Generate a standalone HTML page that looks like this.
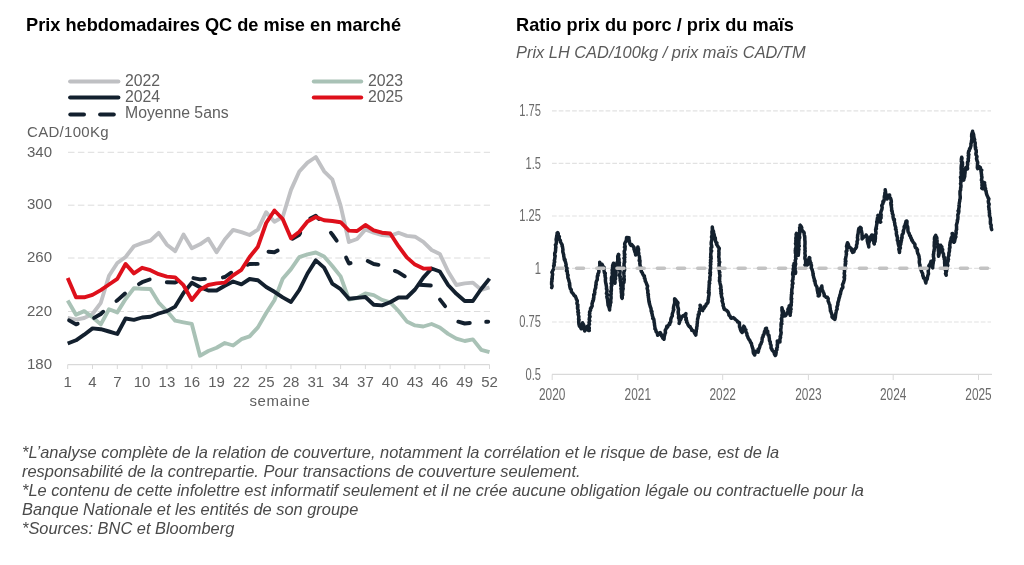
<!DOCTYPE html>
<html><head><meta charset="utf-8"><style>
html,body{margin:0;padding:0;background:#fff;}
body{width:1024px;height:565px;position:relative;overflow:hidden;font-family:"Liberation Sans", sans-serif;}
.t{position:absolute;white-space:nowrap;will-change:transform;}
.title{font-weight:bold;font-size:18.2px;color:#000;}
.foot{font-style:italic;font-size:16.4px;color:#4a4a4a;line-height:19.1px;left:22px;top:443.1px;}
svg{position:absolute;left:0;top:0;will-change:transform;}
</style></head><body>
<div class="t title" style="left:25.5px;top:14.8px;">Prix hebdomadaires QC de mise en marché</div>
<div class="t title" style="left:515.5px;top:15.3px;">Ratio prix du porc / prix du maïs</div>
<div class="t" style="left:515.5px;top:43px;font-style:italic;font-size:16.4px;color:#5a5a5a;">Prix LH CAD/100kg / prix maïs CAD/TM</div>
<svg width="1024" height="565" viewBox="0 0 1024 565">

<line x1="68" y1="152.3" x2="490" y2="152.3" stroke="#dcdcdc" stroke-width="1" stroke-dasharray="6.5 3.4"/><line x1="68" y1="205.2" x2="490" y2="205.2" stroke="#dcdcdc" stroke-width="1" stroke-dasharray="6.5 3.4"/><line x1="68" y1="258.0" x2="490" y2="258.0" stroke="#dcdcdc" stroke-width="1" stroke-dasharray="6.5 3.4"/><line x1="68" y1="311.5" x2="490" y2="311.5" stroke="#dcdcdc" stroke-width="1" stroke-dasharray="6.5 3.4"/><line x1="67.7" y1="364.6" x2="489.6" y2="364.6" stroke="#d9d9d9" stroke-width="1.2"/><line x1="67.7" y1="364.6" x2="67.7" y2="369" stroke="#d9d9d9" stroke-width="1"/><line x1="92.5" y1="364.6" x2="92.5" y2="369" stroke="#d9d9d9" stroke-width="1"/><line x1="117.3" y1="364.6" x2="117.3" y2="369" stroke="#d9d9d9" stroke-width="1"/><line x1="142.1" y1="364.6" x2="142.1" y2="369" stroke="#d9d9d9" stroke-width="1"/><line x1="166.9" y1="364.6" x2="166.9" y2="369" stroke="#d9d9d9" stroke-width="1"/><line x1="191.8" y1="364.6" x2="191.8" y2="369" stroke="#d9d9d9" stroke-width="1"/><line x1="216.6" y1="364.6" x2="216.6" y2="369" stroke="#d9d9d9" stroke-width="1"/><line x1="241.4" y1="364.6" x2="241.4" y2="369" stroke="#d9d9d9" stroke-width="1"/><line x1="266.2" y1="364.6" x2="266.2" y2="369" stroke="#d9d9d9" stroke-width="1"/><line x1="291.0" y1="364.6" x2="291.0" y2="369" stroke="#d9d9d9" stroke-width="1"/><line x1="315.8" y1="364.6" x2="315.8" y2="369" stroke="#d9d9d9" stroke-width="1"/><line x1="340.6" y1="364.6" x2="340.6" y2="369" stroke="#d9d9d9" stroke-width="1"/><line x1="365.4" y1="364.6" x2="365.4" y2="369" stroke="#d9d9d9" stroke-width="1"/><line x1="390.2" y1="364.6" x2="390.2" y2="369" stroke="#d9d9d9" stroke-width="1"/><line x1="415.0" y1="364.6" x2="415.0" y2="369" stroke="#d9d9d9" stroke-width="1"/><line x1="439.8" y1="364.6" x2="439.8" y2="369" stroke="#d9d9d9" stroke-width="1"/><line x1="464.7" y1="364.6" x2="464.7" y2="369" stroke="#d9d9d9" stroke-width="1"/><line x1="489.5" y1="364.6" x2="489.5" y2="369" stroke="#d9d9d9" stroke-width="1"/>
<g font-family='"Liberation Sans", sans-serif' font-size="15" fill="#606060"><text x="67.7" y="386.9" text-anchor="middle">1</text><text x="92.5" y="386.9" text-anchor="middle">4</text><text x="117.3" y="386.9" text-anchor="middle">7</text><text x="142.1" y="386.9" text-anchor="middle">10</text><text x="166.9" y="386.9" text-anchor="middle">13</text><text x="191.8" y="386.9" text-anchor="middle">16</text><text x="216.6" y="386.9" text-anchor="middle">19</text><text x="241.4" y="386.9" text-anchor="middle">22</text><text x="266.2" y="386.9" text-anchor="middle">25</text><text x="291.0" y="386.9" text-anchor="middle">28</text><text x="315.8" y="386.9" text-anchor="middle">31</text><text x="340.6" y="386.9" text-anchor="middle">34</text><text x="365.4" y="386.9" text-anchor="middle">37</text><text x="390.2" y="386.9" text-anchor="middle">40</text><text x="415.0" y="386.9" text-anchor="middle">43</text><text x="439.8" y="386.9" text-anchor="middle">46</text><text x="464.7" y="386.9" text-anchor="middle">49</text><text x="489.5" y="386.9" text-anchor="middle">52</text><text x="27" y="156.5">340</text><text x="27" y="209.4">300</text><text x="27" y="262.2">260</text><text x="27" y="315.7">220</text><text x="27" y="368.8">180</text>
<text x="27" y="136.5" letter-spacing="0.3">CAD/100Kg</text>
<text x="249.5" y="406" letter-spacing="0.6">semaine</text>
</g>
<g font-family='"Liberation Sans", sans-serif' font-size="15.8" fill="#606060">
<text x="125" y="86.1">2022</text>
<text x="125" y="102.2">2024</text>
<text x="125" y="118.3">Moyenne 5ans</text>
<text x="368" y="86.1">2023</text>
<text x="368" y="102.2">2025</text>
</g>
<g fill="none" stroke-width="4" stroke-linecap="round" stroke-linejoin="round">
<line x1="70.1" y1="81.6" x2="118.4" y2="81.6" stroke="#bfc0c3"/>
<line x1="70.1" y1="97.6" x2="118.4" y2="97.6" stroke="#13202e"/>
<line x1="70.3" y1="114.4" x2="84" y2="114.4" stroke="#13202e"/>
<line x1="100.1" y1="114.4" x2="113.8" y2="114.4" stroke="#13202e"/>
<line x1="313.8" y1="81.5" x2="361.2" y2="81.5" stroke="#a9c2b6"/>
<line x1="313.8" y1="97.6" x2="361.2" y2="97.6" stroke="#de101b"/>
</g><g fill="none" stroke-width="3.9" stroke-linecap="butt" stroke-linejoin="round">
<polyline points="67.7,318.0 76.0,319.6 84.2,318.0 92.5,314.0 100.8,302.8 109.0,275.7 117.3,263.0 125.6,257.0 133.9,246.3 142.1,243.1 150.4,240.7 158.7,232.8 166.9,244.7 175.2,251.1 183.5,234.5 191.8,248.3 200.0,244.3 208.3,238.7 216.6,252.3 224.8,239.5 233.1,229.9 241.4,232.2 249.6,235.0 257.9,229.7 266.2,212.2 274.4,221.8 282.7,217.0 291.0,189.9 299.3,171.5 307.5,162.6 315.8,157.0 324.1,171.3 332.3,179.3 340.6,205.6 348.9,242.0 357.1,239.0 365.4,229.5 373.7,232.7 382.0,235.1 390.2,235.9 398.5,232.7 406.8,235.9 415.0,236.7 423.3,241.8 431.6,250.0 439.8,253.9 448.1,271.5 456.4,285.0 464.7,283.4 472.9,282.6 481.2,289.8 489.5,287.4" stroke="#c0c1c4"/>
<polyline points="67.7,300.5 76.0,314.8 84.2,311.1 92.5,317.2 100.8,324.4 109.0,309.2 117.3,312.4 125.6,299.0 133.9,288.3 142.1,288.7 150.4,289.0 158.7,302.6 166.9,311.0 175.2,320.7 183.5,322.3 191.8,323.9 200.0,355.7 208.3,351.0 216.6,347.8 224.8,343.0 233.1,345.5 241.4,339.2 249.6,336.4 257.9,327.4 266.2,313.0 274.4,300.2 282.7,278.7 291.0,269.1 299.3,257.2 307.5,254.4 315.8,252.5 324.1,256.5 332.3,266.0 340.6,276.4 348.9,299.5 357.1,298.0 365.4,293.5 373.7,295.1 382.0,299.9 390.2,302.3 398.5,311.0 406.8,321.4 415.0,325.4 423.3,326.5 431.6,324.0 439.8,327.5 448.1,333.9 456.4,338.6 464.7,341.0 472.9,339.4 481.2,349.8 489.5,352.2" stroke="#a9c2b6"/>
<polyline points="69.1,320.4 76.0,324.4 77.7,323.7" stroke="#13202e" stroke-linecap="round"/><polyline points="94.1,317.9 100.8,314.0 103.2,311.7" stroke="#13202e" stroke-linecap="round"/><polyline points="116.4,301.0 117.3,300.4 125.0,293.5" stroke="#13202e" stroke-linecap="round"/><polyline points="138.9,284.1 142.1,282.2 149.7,279.5" stroke="#13202e" stroke-linecap="round"/><polyline points="166.8,282.2 166.9,282.2 175.2,282.5 176.8,281.8" stroke="#13202e" stroke-linecap="round"/><polyline points="193.4,278.1 200.0,279.4 204.9,278.9" stroke="#13202e" stroke-linecap="round"/><polyline points="222.9,277.4 224.8,277.0 231.2,272.7" stroke="#13202e" stroke-linecap="round"/><polyline points="247.7,264.8 249.6,264.0 257.7,263.9" stroke="#13202e" stroke-linecap="round"/><polyline points="268.5,251.7 274.4,252.3 277.7,250.6" stroke="#13202e" stroke-linecap="round"/><polyline points="292.4,238.7 299.3,234.7 300.2,233.0" stroke="#13202e" stroke-linecap="round"/><polyline points="310.3,218.6 315.8,215.8 318.8,219.0" stroke="#13202e" stroke-linecap="round"/><polyline points="330.9,232.8 332.3,234.5 336.7,240.6" stroke="#13202e" stroke-linecap="round"/><polyline points="346.1,257.6 348.9,263.5 350.6,263.1" stroke="#13202e" stroke-linecap="round"/><polyline points="367.7,261.1 373.7,264.0 378.5,264.8" stroke="#13202e" stroke-linecap="round"/><polyline points="394.9,270.9 398.5,272.3 404.8,276.3" stroke="#13202e" stroke-linecap="round"/><polyline points="419.6,284.8 423.3,285.0 430.8,285.5" stroke="#13202e" stroke-linecap="round"/><polyline points="440.0,299.6 445.1,306.1" stroke="#13202e" stroke-linecap="round"/><polyline points="458.3,321.7 464.7,323.5 469.8,323.0" stroke="#13202e" stroke-linecap="round"/><polyline points="486.2,321.8 488.2,321.7" stroke="#13202e" stroke-linecap="round"/>
<polyline points="67.7,343.5 76.0,340.3 84.2,334.7 92.5,328.4 100.8,329.2 109.0,331.5 117.3,334.0 125.6,318.5 133.9,319.9 142.1,317.5 150.4,316.7 158.7,313.5 166.9,311.1 175.2,306.6 183.5,293.0 191.8,282.8 200.0,287.3 208.3,290.5 216.6,290.5 224.8,285.7 233.1,281.5 241.4,284.3 249.6,279.0 257.9,280.3 266.2,287.0 274.4,291.8 282.7,297.4 291.0,302.0 299.3,290.0 307.5,273.5 315.8,260.4 324.1,267.6 332.3,283.6 340.6,289.2 348.9,298.7 357.1,297.9 365.4,297.0 373.7,304.7 382.0,305.4 390.2,302.3 398.5,297.5 406.8,297.5 415.0,289.5 423.3,277.6 431.6,268.5 439.8,271.5 448.1,285.0 456.4,293.8 464.7,301.0 472.9,301.0 481.2,289.0 489.5,278.6" stroke="#13202e"/>
<polyline points="67.7,278.1 76.0,297.3 84.2,297.3 92.5,294.9 100.8,290.1 109.0,284.5 117.3,278.9 125.6,264.0 133.9,273.4 142.1,267.8 150.4,270.2 158.7,274.2 166.9,276.6 175.2,277.4 183.5,285.2 191.8,300.0 200.0,289.7 208.3,285.0 216.6,283.4 224.8,282.6 233.1,275.4 241.4,269.8 249.6,257.0 257.9,246.7 266.2,223.0 274.4,210.5 282.7,219.0 291.0,238.2 299.3,231.8 307.5,221.5 315.8,217.0 324.1,220.3 332.3,221.0 340.6,222.2 348.9,230.6 357.1,231.0 365.4,225.0 373.7,230.3 382.0,232.7 390.2,233.5 398.5,246.2 406.8,257.4 415.0,264.6 423.3,268.6 431.6,268.5" stroke="#de101b"/>
</g>


<line x1="552" y1="110.8" x2="991" y2="110.8" stroke="#e2e2e2" stroke-width="1.2" stroke-dasharray="4.7 2"/><line x1="552" y1="163.4" x2="991" y2="163.4" stroke="#e2e2e2" stroke-width="1.2" stroke-dasharray="4.7 2"/><line x1="552" y1="216.0" x2="991" y2="216.0" stroke="#e2e2e2" stroke-width="1.2" stroke-dasharray="4.7 2"/><line x1="552" y1="322.0" x2="991" y2="322.0" stroke="#e2e2e2" stroke-width="1.2" stroke-dasharray="4.7 2"/><line x1="552" y1="268.4" x2="991" y2="268.4" stroke="#e2e2e2" stroke-width="1.2" stroke-dasharray="4.7 2"/><line x1="552" y1="374.4" x2="992" y2="374.4" stroke="#d9d9d9" stroke-width="1.2"/><line x1="552.2" y1="374.4" x2="552.2" y2="380" stroke="#d9d9d9" stroke-width="1"/><line x1="637.8" y1="374.4" x2="637.8" y2="380" stroke="#d9d9d9" stroke-width="1"/><line x1="722.7" y1="374.4" x2="722.7" y2="380" stroke="#d9d9d9" stroke-width="1"/><line x1="808.4" y1="374.4" x2="808.4" y2="380" stroke="#d9d9d9" stroke-width="1"/><line x1="893.2" y1="374.4" x2="893.2" y2="380" stroke="#d9d9d9" stroke-width="1"/><line x1="978.5" y1="374.4" x2="978.5" y2="380" stroke="#d9d9d9" stroke-width="1"/>
<g font-family='"Liberation Sans", sans-serif' font-size="16.5" fill="#6b6b6b"><text transform="translate(552.2,399.7) scale(0.72,1)" text-anchor="middle">2020</text><text transform="translate(637.8,399.7) scale(0.72,1)" text-anchor="middle">2021</text><text transform="translate(722.7,399.7) scale(0.72,1)" text-anchor="middle">2022</text><text transform="translate(808.4,399.7) scale(0.72,1)" text-anchor="middle">2023</text><text transform="translate(893.2,399.7) scale(0.72,1)" text-anchor="middle">2024</text><text transform="translate(978.5,399.7) scale(0.72,1)" text-anchor="middle">2025</text><text transform="translate(541,116.0) scale(0.675,1)" text-anchor="end">1.75</text><text transform="translate(541,168.6) scale(0.675,1)" text-anchor="end">1.5</text><text transform="translate(541,221.2) scale(0.675,1)" text-anchor="end">1.25</text><text transform="translate(541,273.6) scale(0.675,1)" text-anchor="end">1</text><text transform="translate(541,327.2) scale(0.675,1)" text-anchor="end">0.75</text><text transform="translate(541,379.6) scale(0.675,1)" text-anchor="end">0.5</text></g>
<polyline points="551.7,287.6 552.1,286.2 552.0,285.4 551.6,284.4 551.6,283.0 551.7,281.1 552.0,281.2 551.8,278.8 552.3,278.9 552.2,276.6 552.6,274.7 552.6,273.9 551.9,272.3 552.1,272.3 552.8,270.4 553.9,268.6 553.9,266.8 553.6,265.8 554.3,265.0 554.0,264.1 554.3,262.4 554.7,261.9 554.3,260.4 554.6,259.8 554.9,257.5 555.2,256.0 554.8,255.9 554.7,254.2 554.7,253.3 555.4,251.9 555.6,250.2 555.6,249.5 555.6,248.1 555.9,247.7 555.7,246.0 555.4,244.9 556.1,244.1 556.5,241.6 556.3,241.0 556.1,239.4 556.5,237.5 556.5,237.4 556.8,235.2 557.2,235.0 557.1,233.0 557.7,232.5 558.3,233.8 558.2,234.2 558.6,236.4 559.4,236.4 559.1,237.8 559.5,239.6 560.4,240.5 560.5,242.1 561.5,243.6 562.2,245.0 562.1,246.1 562.4,246.3 562.8,248.8 563.0,250.0 562.8,250.5 562.8,252.1 563.0,252.2 563.3,253.6 563.7,254.6 563.7,256.0 564.1,257.6 564.3,259.7 565.1,259.6 565.1,261.2 565.5,262.0 566.2,264.8 566.1,265.1 565.9,265.6 566.4,267.1 567.0,268.1 566.5,270.8 567.1,270.5 567.3,271.5 567.5,274.5 568.1,275.2 567.8,275.8 567.9,277.8 568.5,279.0 568.5,279.2 569.2,281.8 569.5,282.7 569.7,283.8 569.4,284.7 569.8,285.0 569.8,286.7 570.3,288.7 571.2,289.5 571.4,291.7 571.7,291.9 572.0,292.6 573.0,293.5 574.4,295.7 575.4,296.3 576.1,298.1 576.4,299.2 577.3,300.6 577.3,301.3 576.9,303.1 577.2,304.4 577.9,304.9 577.5,307.1 577.9,307.0 577.5,308.2 578.3,310.6 577.8,311.9 578.6,312.8 578.2,313.9 578.1,314.2 578.9,316.7 578.6,318.5 578.6,319.7 579.1,319.8 578.7,321.2 578.8,323.1 578.9,324.1 579.4,326.2 580.3,326.7 581.2,328.8 581.4,327.7 581.9,325.8 582.3,323.8 582.6,322.9 582.6,322.8 582.9,323.5 583.7,324.9 583.5,326.1 584.0,327.8 583.8,328.6 584.1,329.4 584.8,331.0 585.2,330.3 586.1,328.5 586.4,327.4 586.9,326.5 587.4,327.5 587.9,329.4 588.6,330.5 589.3,330.6 589.0,330.6 589.3,327.9 588.7,327.2 588.8,325.6 588.8,325.1 589.5,324.3 589.0,322.8 589.5,320.5 589.8,320.7 589.2,319.5 589.5,317.4 590.1,316.8 589.4,314.8 589.8,313.4 589.5,312.2 590.4,310.4 590.6,310.0 590.5,308.6 591.4,307.7 591.2,307.3 592.2,306.1 592.0,303.6 592.3,303.3 592.7,300.9 593.1,301.2 593.7,298.8 593.3,298.8 593.9,297.2 593.7,294.8 594.5,294.3 594.2,294.1 594.9,292.6 594.6,291.5 594.8,290.3 595.4,288.2 595.7,288.1 595.7,285.4 596.2,284.4 596.0,283.1 596.2,282.0 596.6,280.9 597.3,279.7 597.3,278.3 597.3,276.8 597.5,275.6 598.1,275.4 597.9,274.1 598.8,272.2 598.9,271.6 598.8,271.0 598.9,269.2 599.4,268.8 599.3,267.3 599.9,265.7 599.8,263.9 599.7,262.2 600.8,264.3 602.1,264.3 603.0,266.5 604.0,267.4 603.7,267.9 604.0,269.5 604.1,270.7 604.4,272.8 605.3,273.3 604.9,275.2 605.2,275.3 605.1,276.6 605.6,278.1 605.4,279.3 605.4,280.1 605.5,281.6 605.6,282.1 605.9,283.7 606.3,285.5 606.5,286.9 606.6,288.5 606.4,288.8 607.0,289.7 606.9,291.8 606.4,293.4 607.3,294.2 607.2,295.8 606.8,296.5 607.2,298.3 607.6,299.5 607.6,300.8 607.9,301.6 607.7,301.6 607.9,303.4 608.1,305.4 608.7,306.3 609.0,307.5 609.1,307.5 609.6,310.0 609.6,308.3 610.0,306.1 610.3,305.1 610.0,303.7 610.8,302.3 610.9,302.5 610.7,300.2 610.8,299.5 611.1,298.2 611.0,296.0 610.6,295.1 611.2,294.0 611.1,292.3 610.7,291.5 611.3,291.1 611.4,289.2 611.3,288.3 611.3,286.5 611.8,285.4 611.9,285.5 611.1,283.4 611.9,283.2 611.6,280.7 611.4,280.7 611.5,278.9 611.5,277.5 612.3,275.6 612.3,275.0 612.5,274.2 612.1,273.3 612.4,270.5 612.1,270.1 612.6,268.5 612.5,267.3 612.8,267.0 612.6,265.6 613.5,263.2 613.7,265.5 613.7,266.0 613.4,267.4 614.0,268.9 613.5,269.9 613.6,270.4 613.5,273.0 613.8,274.4 613.8,274.4 614.1,275.5 614.1,278.1 614.7,279.1 614.5,280.5 614.9,281.1 614.8,281.4 614.9,283.3 615.1,282.4 614.8,280.0 615.6,278.8 615.3,277.9 615.3,277.3 616.1,275.2 615.9,273.9 616.0,272.8 615.8,271.1 616.0,271.2 616.4,268.7 617.0,268.8 616.7,266.1 616.6,264.7 616.9,263.5 617.0,262.5 617.5,262.4 617.8,260.3 617.7,259.2 617.8,257.7 617.7,256.3 618.7,254.8 618.4,254.4 618.8,254.9 618.4,256.2 618.6,257.7 619.2,259.6 619.2,259.4 618.6,261.8 619.4,262.6 619.2,262.9 619.2,265.8 619.6,266.9 619.9,267.0 619.2,268.0 619.7,270.2 620.1,271.5 620.0,272.7 619.9,273.6 619.6,275.2 619.9,276.6 620.3,276.7 620.0,277.8 620.5,279.9 620.1,279.9 620.6,282.1 620.6,282.6 620.9,283.5 620.7,285.5 621.4,287.0 621.4,287.9 620.9,288.7 621.7,290.8 621.2,290.8 621.4,293.2 621.5,293.6 621.8,296.0 621.5,295.6 621.7,297.5 622.1,298.4 622.3,298.1 622.2,295.9 622.7,294.9 622.7,293.6 622.3,293.3 622.5,292.4 622.8,289.8 622.7,289.1 623.2,288.8 622.8,286.6 623.0,286.4 623.1,283.5 623.1,282.9 624.0,282.6 624.0,281.6 624.3,279.2 623.6,279.1 624.2,276.3 624.1,275.7 623.9,274.4 623.8,272.6 623.9,272.0 624.5,270.4 624.6,269.4 624.0,269.3 624.5,267.4 623.8,266.3 624.1,265.9 624.0,263.7 624.7,261.9 624.3,262.1 624.6,259.5 624.0,258.3 624.8,257.5 624.7,257.4 624.4,255.1 624.9,254.5 624.3,253.5 624.4,251.5 624.2,251.2 625.0,249.7 625.1,247.4 624.5,247.1 625.2,246.7 624.7,244.3 624.7,243.5 625.6,241.7 625.9,241.6 626.3,240.5 626.5,238.5 626.6,237.4 629.0,237.8 628.8,240.2 629.3,240.2 629.5,242.2 630.1,244.2 631.0,245.4 631.9,244.7 633.2,246.4 634.1,247.6 633.9,248.8 634.5,250.5 634.9,252.1 635.1,252.0 635.5,253.6 635.6,255.0 636.1,253.4 636.1,252.1 636.4,252.0 637.2,249.7 637.4,249.6 637.9,246.9 638.3,248.9 638.6,249.2 638.3,251.8 638.8,253.2 638.2,253.3 638.5,254.4 639.4,256.4 639.5,257.3 639.6,258.6 639.2,260.5 640.0,260.6 639.9,262.8 639.8,263.7 640.0,264.7 640.3,266.7 640.9,267.3 640.5,268.8 641.3,269.8 641.2,271.2 642.4,273.0 642.5,273.4 643.5,275.5 644.4,275.9 644.4,278.2 645.0,278.7 645.3,281.2 645.7,281.7 646.1,282.7 647.0,285.0 646.9,284.8 647.6,286.1 647.1,288.5 647.6,289.6 647.7,290.9 647.9,290.8 647.7,292.7 648.4,294.5 648.0,295.2 648.4,296.2 648.3,297.0 648.8,299.3 648.6,299.7 649.3,301.8 648.9,301.4 649.7,304.2 649.4,303.7 650.0,305.5 650.4,307.2 650.7,307.6 651.1,309.0 651.2,311.4 652.0,311.4 651.7,313.1 652.3,314.4 652.3,315.4 653.1,317.8 652.8,318.5 653.7,318.8 654.0,320.3 654.1,322.3 654.4,323.2 654.5,324.9 654.8,326.4 655.0,327.2 654.9,328.9 655.6,329.4 656.1,331.7 656.6,332.0 657.3,333.3 657.7,335.3 658.7,334.2 660.2,332.5 661.0,333.8 661.7,336.3 662.1,336.3 662.8,338.1 663.8,338.9 664.0,339.2 664.2,337.6 664.1,336.7 664.6,335.3 665.3,332.6 665.5,332.8 665.2,330.4 666.1,328.8 666.5,327.8 666.8,326.3 667.6,327.0 668.4,325.1 669.7,324.5 669.6,322.9 670.0,323.0 670.8,321.7 670.7,320.2 671.0,318.5 671.7,316.9 672.3,315.9 672.3,315.2 672.2,314.2 673.0,311.8 673.4,310.3 673.8,309.6 673.4,308.7 673.7,306.3 674.2,304.8 674.4,303.9 674.5,304.0 674.7,302.1 674.6,299.7 674.6,298.7 676.0,300.2 676.9,302.1 677.5,302.0 678.0,302.9 677.5,304.8 677.7,306.0 677.9,307.7 678.3,308.3 678.5,310.0 678.1,312.1 678.3,312.0 678.3,314.1 679.1,315.6 678.7,316.0 678.5,317.9 679.1,318.6 679.2,320.1 679.6,321.9 679.1,323.4 679.5,321.5 680.5,319.7 680.8,319.4 681.4,317.7 682.9,315.7 683.3,315.8 684.6,315.2 685.9,313.6 685.6,315.1 685.5,317.3 686.3,318.2 685.8,319.7 686.6,320.2 686.8,321.4 686.5,322.0 687.3,322.9 688.2,325.2 689.3,326.5 690.1,326.5 690.6,327.9 691.6,329.1 691.8,330.4 693.1,330.7 694.0,331.4 694.4,332.8 695.8,335.1 696.0,332.7 696.3,331.4 695.9,331.2 696.5,329.5 696.7,328.7 696.7,327.2 697.1,325.9 697.1,324.4 697.4,322.4 697.3,321.7 697.4,321.0 697.7,318.2 697.9,318.6 698.3,316.0 698.2,314.6 699.1,314.4 699.3,313.4 699.0,311.9 699.5,311.1 700.1,310.0 699.7,308.8 700.6,307.7 700.1,305.2 700.7,306.2 701.9,308.9 702.2,310.3 702.7,310.6 702.9,309.2 704.1,308.3 704.4,307.7 704.7,306.3 705.6,306.1 706.3,304.1 707.5,303.1 708.1,301.9 708.0,300.2 708.4,299.7 708.4,298.3 708.7,296.2 709.0,294.8 709.1,293.7 708.4,292.6 709.2,292.7 708.6,290.6 709.1,290.0 708.9,288.2 709.1,287.6 709.1,286.6 709.2,284.0 709.7,283.3 709.2,282.4 709.3,281.4 709.9,280.2 709.9,278.2 709.8,277.1 710.3,275.3 710.4,274.0 709.8,273.2 710.5,272.4 710.2,271.8 710.1,269.9 710.5,269.2 710.7,267.8 710.4,266.0 710.3,265.7 710.8,264.3 710.4,262.5 711.0,261.5 710.5,260.1 711.2,258.5 710.6,257.3 711.1,257.1 710.7,254.6 710.8,253.7 711.1,252.2 711.0,251.0 711.6,250.8 710.9,250.0 711.0,247.7 711.8,247.2 711.6,245.3 711.2,244.5 711.2,242.5 711.5,241.0 711.5,241.1 711.9,239.3 711.9,238.1 711.5,237.1 711.8,236.1 712.3,234.3 712.0,233.7 711.9,231.5 712.2,231.5 712.3,229.9 712.5,228.6 712.3,227.0 712.3,228.5 712.4,229.4 713.4,231.1 713.5,231.5 713.6,233.1 714.1,234.2 714.5,236.4 714.4,237.1 715.3,237.8 715.4,240.1 715.4,240.5 715.9,242.2 716.9,242.9 716.5,244.2 717.6,245.9 718.3,247.2 719.3,248.4 718.9,250.4 718.8,251.2 719.0,252.6 718.8,254.2 719.0,253.8 718.9,255.6 718.7,256.9 719.1,258.7 719.1,259.1 719.0,261.2 719.7,262.1 719.0,263.8 719.2,264.0 719.0,266.2 719.7,267.2 719.4,268.3 719.2,270.3 719.3,270.9 719.8,272.5 719.5,272.8 719.6,273.7 719.9,275.4 719.9,276.4 719.5,277.7 719.7,278.8 719.4,281.0 719.8,281.3 720.0,283.0 720.3,284.5 720.6,285.2 721.0,287.3 720.4,288.5 721.3,289.6 720.8,291.0 721.3,290.7 720.9,293.6 721.7,293.6 721.3,294.6 721.6,297.0 721.8,297.1 722.5,299.5 722.0,300.9 722.5,301.9 722.9,303.3 723.3,304.4 723.0,305.4 723.6,306.7 723.8,308.2 724.2,308.3 724.3,309.3 725.7,309.8 726.9,310.7 728.1,312.0 728.8,313.9 728.9,315.2 730.0,316.0 730.8,317.7 731.2,318.3 733.3,317.6 734.6,318.6 735.4,319.5 737.3,321.0 737.7,322.1 738.7,322.3 739.4,322.7 739.5,325.1 739.5,326.8 739.9,327.4 740.3,329.2 740.6,330.0 741.3,331.6 742.2,332.5 742.5,331.6 742.6,330.2 743.0,330.3 743.4,328.8 743.5,326.8 743.8,326.2 744.7,327.7 744.7,328.9 745.9,329.8 745.5,330.6 745.8,331.7 746.9,333.7 747.0,335.3 747.6,336.3 748.1,337.9 749.0,339.5 749.8,340.4 750.6,342.4 751.4,343.4 751.7,344.9 752.5,347.7 752.7,347.9 753.1,349.9 753.1,350.2 753.2,351.7 753.4,353.0 754.7,355.0 755.0,353.2 755.8,351.3 758.1,352.1 758.6,350.6 758.2,349.1 759.1,348.8 759.8,346.7 760.1,344.9 761.0,344.0 761.3,342.6 761.4,342.6 761.8,341.9 762.0,340.5 762.3,337.7 763.0,336.9 763.3,335.5 763.1,335.3 764.1,334.1 764.5,331.4 764.8,331.2 765.2,330.0 765.6,328.4 766.5,328.2 766.4,330.7 767.7,331.1 767.8,333.7 768.2,335.3 769.0,335.3 769.1,337.4 769.4,338.8 769.4,340.3 769.8,341.2 770.3,342.0 770.3,343.9 771.0,345.1 771.1,345.6 771.0,348.1 772.0,349.2 772.0,350.1 773.4,351.5 773.9,351.7 774.5,354.3 775.3,355.5 775.8,354.7 776.2,352.3 775.8,351.1 776.4,350.4 777.0,349.7 776.6,348.4 777.4,347.2 777.2,344.9 777.6,344.7 777.5,343.6 777.3,340.9 777.5,340.9 778.3,341.9 780.0,342.0 779.9,341.6 779.9,339.5 779.9,339.2 780.6,337.4 780.1,336.8 780.9,334.5 780.8,334.5 781.2,332.6 780.9,331.5 780.7,329.6 780.8,329.3 781.0,327.9 781.1,326.6 781.0,324.5 781.8,323.9 781.1,323.2 781.8,321.1 781.7,320.3 781.7,318.5 781.3,319.0 782.1,316.9 781.9,315.3 782.2,314.4 782.4,313.8 782.4,312.9 781.9,310.1 782.0,309.1 781.9,307.7 782.6,310.4 782.8,311.8 783.5,311.4 783.5,313.2 783.3,315.5 783.7,316.0 785.6,315.7 786.7,313.6 787.6,312.1 788.3,312.4 787.9,309.4 788.2,308.7 789.0,308.5 789.2,305.7 789.5,305.7 789.5,307.5 789.1,307.3 789.8,310.1 789.9,310.2 789.9,312.4 789.6,312.9 789.9,313.9 790.2,315.3 790.1,314.0 790.5,312.6 790.7,311.7 790.1,311.7 790.4,310.5 791.1,309.2 790.5,307.2 790.6,306.8 791.3,305.0 791.1,303.3 791.5,302.3 791.4,300.5 791.1,299.1 791.7,298.7 791.2,298.1 791.4,296.0 791.4,294.5 792.1,293.4 791.6,292.5 791.8,292.0 791.8,290.9 791.8,289.5 792.4,287.0 792.3,285.9 792.2,284.5 792.3,284.6 793.0,283.3 792.2,280.9 793.0,279.2 792.9,278.4 793.2,276.6 793.1,276.0 792.6,274.1 793.3,273.8 792.8,272.4 793.5,270.7 793.3,269.3 793.1,269.3 793.8,267.0 793.4,265.6 794.1,265.1 794.0,263.4 794.4,265.5 794.7,266.6 794.3,266.9 794.9,268.8 795.0,269.5 795.2,271.3 795.4,273.5 795.2,273.2 795.6,272.9 795.6,271.3 795.0,271.1 795.2,268.7 795.2,268.3 794.9,266.9 795.4,265.7 795.1,264.9 795.7,264.0 795.3,262.5 795.4,261.4 795.2,260.4 796.0,258.5 795.6,257.4 795.7,255.2 796.1,254.4 795.4,253.0 795.5,253.1 795.3,250.6 796.0,249.6 795.4,249.1 795.9,247.7 796.1,245.8 796.2,245.7 795.5,243.4 796.0,242.9 795.8,241.0 795.9,239.8 796.1,239.9 795.8,238.2 796.3,236.3 796.4,236.5 796.1,234.4 796.5,233.3 796.2,235.3 796.7,235.5 796.3,236.7 796.6,239.1 797.0,240.3 797.2,241.4 796.6,242.0 797.5,244.0 797.0,244.4 797.4,245.5 797.4,246.2 797.5,248.2 797.2,248.8 798.2,251.2 798.3,252.2 798.3,253.9 798.4,253.6 798.3,255.3 798.4,254.1 798.4,254.0 798.6,251.6 798.5,250.7 799.0,249.3 798.5,248.7 798.4,247.4 799.3,246.0 798.7,244.7 799.0,243.0 798.7,241.7 799.0,241.0 799.1,239.5 799.0,238.8 799.7,237.7 799.6,236.6 799.3,235.5 799.6,234.0 799.8,232.6 799.6,231.0 799.6,230.3 799.9,229.2 799.6,227.6 800.5,226.2 800.3,225.4 800.1,225.1 800.5,225.9 800.8,225.9 801.8,227.8 801.5,228.9 802.2,230.7 802.6,230.8 804.1,232.7 804.1,233.0 804.3,234.8 804.6,236.3 804.8,237.0 804.8,238.6 804.8,239.3 804.9,240.9 805.0,241.1 805.0,242.1 805.0,244.3 804.8,246.2 804.9,246.4 805.1,248.5 805.0,248.8 804.9,250.1 805.2,251.0 804.9,252.7 804.9,253.5 805.3,255.7 805.1,256.1 804.9,257.1 804.9,258.8 805.3,259.1 805.6,260.8 805.6,262.9 805.7,263.0 805.3,265.4 805.0,265.1 807.5,264.9 808.1,264.0 808.1,263.1 808.4,260.9 808.9,259.3 808.9,258.3 809.3,257.6 809.8,258.1 809.5,259.1 810.0,260.6 810.4,262.5 811.0,263.0 810.7,264.5 811.5,265.2 811.3,267.3 811.2,267.7 812.2,269.8 812.1,269.7 812.8,272.0 813.0,273.8 813.3,274.0 813.0,274.9 813.6,276.5 813.6,277.2 814.3,279.2 814.4,281.1 815.0,280.7 815.2,283.3 815.5,284.4 815.6,284.9 816.7,286.7 817.0,287.3 817.2,289.2 817.4,290.7 817.8,292.5 818.1,292.7 817.9,293.4 818.6,294.6 818.2,295.9 819.0,295.8 819.5,294.5 819.4,291.8 820.4,291.1 820.7,289.9 820.6,288.4 821.0,288.3 821.8,286.0 822.0,287.4 822.0,289.6 822.9,291.0 823.1,291.6 823.3,291.9 824.3,294.6 824.2,295.9 825.0,296.1 826.1,297.3 827.4,297.3 827.5,297.6 828.2,298.5 828.1,301.0 828.6,302.1 828.7,302.3 829.1,303.6 829.9,305.0 829.9,306.0 830.1,307.7 830.3,308.4 830.4,310.9 830.9,311.1 831.1,312.4 831.4,313.2 832.1,315.0 832.0,316.8 832.2,317.3 833.2,318.2 834.8,319.5 835.4,317.0 835.2,316.8 835.5,316.0 835.6,314.7 836.1,312.1 836.3,310.7 836.8,309.7 837.2,309.0 836.9,307.2 837.4,305.8 837.9,304.4 837.8,303.9 837.8,303.1 838.3,301.6 838.8,299.7 839.0,298.0 839.2,298.1 839.7,296.5 839.9,295.1 840.5,293.7 840.8,291.6 841.1,290.7 841.3,290.4 841.7,288.6 842.6,288.0 842.9,287.0 842.5,284.7 842.7,284.2 843.6,282.4 843.7,281.7 844.3,279.7 844.5,278.7 844.4,277.2 844.0,277.3 844.7,275.8 844.2,273.4 844.4,272.5 844.6,271.6 844.4,270.3 845.1,268.8 845.3,268.3 845.3,266.6 845.2,266.1 845.2,263.7 845.7,263.9 845.3,261.4 845.9,261.2 845.3,259.3 845.5,259.1 845.7,258.0 846.2,255.3 846.3,254.6 846.5,254.1 846.1,251.5 846.9,250.9 846.9,250.1 846.9,249.1 846.9,247.2 846.5,246.4 846.9,244.8 847.5,242.8 848.2,244.0 849.1,246.8 849.6,247.3 851.2,248.4 851.3,249.0 851.4,250.4 852.2,251.3 852.6,252.4 853.9,251.9 854.5,249.6 855.4,248.7 856.4,247.2 856.5,246.9 856.5,245.1 856.8,244.4 857.2,243.1 857.0,241.7 857.5,240.2 857.8,239.6 857.4,237.5 857.7,236.1 857.6,235.1 857.9,234.6 858.3,232.4 858.3,231.8 858.5,230.1 858.9,228.5 860.4,228.6 860.2,227.2 861.2,228.2 860.7,229.4 861.2,230.1 861.5,231.1 862.0,233.5 862.0,235.3 862.2,235.4 862.1,236.5 862.1,238.9 863.8,237.1 864.2,236.7 865.8,236.3 866.1,235.0 866.9,236.2 866.7,236.5 867.4,238.1 867.2,239.8 867.4,241.6 867.5,241.5 868.0,243.8 868.5,245.3 868.8,247.0 868.7,244.9 868.7,243.2 869.4,241.5 869.8,240.4 869.9,240.5 869.9,237.6 870.9,236.5 871.8,234.9 872.6,235.1 872.8,235.6 872.6,237.2 873.0,238.0 873.1,239.3 873.6,241.2 874.1,241.2 873.8,243.0 874.3,244.0 874.1,242.4 874.3,241.8 875.1,241.4 875.1,240.4 875.4,238.5 875.4,236.3 875.4,236.1 875.2,234.8 876.0,233.5 875.9,231.9 875.8,231.8 875.6,229.3 876.4,228.6 876.0,227.8 876.4,226.4 876.6,225.0 876.9,223.6 876.7,221.9 877.6,221.4 877.1,220.7 877.4,218.1 877.8,217.1 877.9,216.4 877.9,215.2 878.1,216.4 878.8,216.9 879.0,218.2 879.4,221.0 879.8,222.0 880.3,222.2 880.7,222.0 880.0,221.0 880.4,218.5 881.1,218.0 881.0,216.0 881.2,214.6 880.8,213.9 880.7,213.0 881.1,211.2 881.6,210.2 881.9,209.3 882.1,207.9 882.2,207.2 881.7,205.7 882.3,204.6 883.0,203.6 882.9,201.6 883.8,201.5 884.2,198.7 884.3,197.5 884.5,197.5 884.3,196.5 885.0,194.0 884.8,193.1 885.6,192.1 885.2,189.8 885.4,192.5 885.7,193.4 886.0,194.9 886.3,195.3 887.0,197.3 887.1,199.1 887.9,196.3 888.0,195.3 888.8,195.3 889.6,195.0 889.5,197.6 890.5,198.1 890.8,198.9 891.2,200.5 891.4,202.1 890.8,202.8 891.0,205.1 891.5,204.7 891.3,206.5 891.6,208.1 891.7,208.9 891.6,210.6 892.1,210.8 892.5,213.8 892.3,213.5 893.1,214.9 893.0,216.6 893.2,217.9 893.7,219.8 894.4,219.4 894.3,221.9 894.8,223.1 894.8,224.1 894.8,224.7 895.5,226.9 895.8,227.8 895.5,229.2 896.2,229.9 896.3,230.9 896.5,232.2 896.3,233.3 896.7,235.6 897.1,235.7 897.1,236.7 897.5,237.7 897.3,240.3 897.9,240.8 898.2,241.8 898.0,242.6 898.3,244.3 898.8,246.0 899.2,246.8 899.4,248.5 898.8,249.0 899.4,251.7 899.4,252.6 899.6,251.5 899.5,249.6 900.4,248.0 900.0,246.3 900.1,245.5 900.8,244.1 900.7,242.8 901.0,242.8 901.3,240.3 901.5,240.5 901.6,237.6 902.1,237.8 902.0,235.2 902.2,234.6 903.1,233.5 903.5,231.5 903.2,231.1 903.9,229.3 904.3,228.0 904.1,226.9 904.5,226.0 905.1,224.6 905.7,222.9 906.0,221.2 906.8,221.0 907.0,221.4 906.9,223.9 906.9,224.1 906.9,225.5 907.7,226.7 907.9,228.6 907.9,230.2 908.1,231.6 908.4,232.3 909.1,233.3 909.7,235.4 910.3,235.7 910.9,238.1 911.2,238.0 911.8,240.4 912.1,239.9 913.0,242.2 913.8,242.9 914.6,243.8 915.0,244.7 914.9,246.0 915.5,247.8 916.6,248.4 917.5,249.9 917.1,250.8 917.9,253.5 917.7,253.2 918.6,254.8 919.1,256.6 919.1,257.6 919.5,259.1 919.3,261.2 919.3,262.2 919.5,263.4 920.0,265.1 919.9,265.8 920.5,267.8 921.2,268.5 920.8,269.2 921.3,270.8 921.7,271.7 922.7,273.8 922.8,275.7 923.2,276.2 923.6,278.1 924.7,278.2 925.1,280.4 925.2,280.8 925.9,283.0 926.0,281.3 926.9,279.5 927.3,278.9 927.4,277.5 927.7,276.1 928.4,273.7 928.5,274.0 928.2,271.0 928.2,271.5 928.3,270.1 928.6,268.5 928.7,266.3 929.4,264.9 929.3,265.2 930.2,263.9 931.0,261.2 931.0,261.3 931.7,261.2 931.8,262.7 932.0,263.6 932.0,266.4 932.5,267.4 932.7,267.9 932.7,266.6 932.8,265.8 932.9,264.7 933.3,262.4 933.2,261.9 933.8,260.4 933.2,260.3 933.9,258.7 933.4,256.5 933.5,255.1 933.3,254.7 933.7,253.6 933.8,251.4 934.1,251.3 934.1,249.9 934.3,249.5 934.5,247.8 934.1,245.9 934.2,245.9 934.3,243.6 934.3,242.0 934.9,240.5 934.7,241.0 934.4,239.2 934.6,237.3 935.7,235.3 936.5,237.7 936.8,237.6 936.9,239.2 937.1,240.8 937.0,242.8 937.0,243.5 937.9,244.4 937.8,246.5 937.6,247.1 938.2,247.8 938.3,249.1 938.3,250.7 938.5,251.5 938.6,253.1 938.4,254.5 938.6,256.2 939.0,254.6 939.3,252.8 939.2,250.9 940.1,250.3 939.9,248.9 940.4,247.1 940.1,246.8 940.6,245.2 941.3,246.9 941.8,246.7 941.8,249.5 942.7,249.5 942.4,250.9 942.6,252.3 943.5,253.8 943.5,254.2 943.7,257.0 944.3,257.2 944.2,259.1 944.6,259.2 944.6,260.9 944.6,261.9 944.6,263.3 944.8,264.0 944.7,266.3 944.7,266.8 945.5,268.3 945.2,269.5 945.8,270.5 945.8,273.1 945.5,273.6 946.2,275.2 946.0,272.9 946.2,272.3 946.6,270.9 946.5,270.3 947.1,268.5 946.9,267.7 947.5,265.8 947.8,265.5 947.4,264.1 947.5,261.8 948.1,261.2 948.0,260.1 948.5,259.4 947.9,257.9 948.5,256.4 949.0,255.1 948.8,254.7 948.9,252.8 949.2,252.2 949.5,250.8 949.4,248.3 949.8,248.0 950.0,247.2 949.7,245.0 949.9,244.9 950.1,242.4 950.9,242.1 950.5,241.1 951.3,239.6 951.0,238.8 951.5,237.4 952.3,236.6 952.4,234.2 952.1,233.7 952.1,233.4 952.5,233.4 952.8,234.7 953.5,236.6 953.4,237.7 953.2,238.8 954.1,241.0 954.3,241.3 953.9,242.3 954.5,241.6 954.7,240.6 955.0,239.1 955.5,237.5 955.9,236.9 955.3,235.2 956.0,234.1 956.2,232.7 956.0,232.2 956.1,230.7 956.7,229.2 956.5,228.5 956.6,227.0 956.4,224.9 957.0,222.9 957.4,221.5 957.3,220.3 957.8,219.5 957.9,218.0 958.0,216.9 957.8,214.8 958.4,213.5 958.7,212.4 958.1,210.9 958.9,211.2 958.7,209.4 958.8,208.7 959.3,206.1 958.9,205.8 959.1,204.8 959.4,202.4 959.7,201.3 959.8,199.7 960.2,198.7 960.2,197.1 960.3,197.3 960.0,194.3 960.0,194.1 960.0,192.7 960.0,191.2 960.6,189.9 960.6,188.1 960.8,186.9 960.9,187.3 961.0,185.2 960.5,183.7 960.9,182.8 961.1,180.8 960.8,181.0 961.0,179.2 960.5,177.3 960.8,177.5 961.3,175.1 961.5,173.5 961.2,174.0 961.0,172.7 961.4,169.9 961.1,169.4 961.1,168.8 961.1,167.6 961.3,165.2 961.5,164.0 961.6,164.0 961.7,162.2 961.2,161.1 961.3,160.2 961.4,158.8 961.7,157.3 962.0,158.1 961.6,160.7 961.9,161.8 962.4,162.4 961.8,162.9 962.6,164.1 962.3,166.1 962.0,167.2 962.1,168.6 962.5,169.5 962.3,170.8 962.4,171.5 962.5,174.1 962.9,175.3 962.7,176.6 963.4,177.5 963.7,178.5 963.6,179.8 963.8,180.1 963.8,179.1 964.4,177.6 964.8,176.0 964.7,175.1 964.8,174.8 965.1,172.3 964.8,172.0 965.6,169.8 965.4,169.7 965.7,167.8 966.5,168.9 967.5,169.0 967.6,168.5 967.2,166.7 967.2,166.7 967.7,164.4 967.5,163.2 967.5,162.1 967.7,162.2 968.4,160.7 968.1,158.9 968.5,158.4 968.6,156.7 968.2,155.5 968.9,154.6 968.3,153.2 968.7,151.0 969.3,150.7 969.6,148.4 970.1,148.5 970.6,146.9 971.0,145.6 970.9,143.7 971.3,143.0 971.5,140.9 971.7,140.0 971.9,138.0 972.0,137.9 971.6,136.7 971.7,134.2 972.1,133.0 972.2,132.9 972.6,131.3 972.6,132.6 973.3,133.6 973.7,135.0 973.5,134.9 974.0,137.4 974.1,138.2 974.7,139.8 974.1,140.5 974.3,141.0 975.2,142.8 975.2,144.1 975.1,144.9 975.3,147.3 975.7,147.5 975.4,148.7 976.2,150.3 976.3,152.2 975.9,153.3 976.0,154.8 976.2,155.0 977.0,156.5 976.5,158.7 976.9,160.0 976.9,160.5 977.5,161.8 977.7,162.5 977.6,163.7 977.5,164.7 977.3,167.6 977.7,168.7 978.4,167.0 979.1,166.5 980.4,167.6 980.6,169.5 981.7,170.2 981.0,171.3 981.4,173.1 981.3,173.8 981.6,174.5 981.6,176.3 982.0,177.2 981.6,179.2 981.4,180.2 982.0,180.9 981.8,182.5 982.3,183.6 982.2,183.6 981.9,185.0 982.5,187.6 981.8,188.2 982.3,188.5 982.5,188.6 983.0,186.6 983.5,185.4 983.6,184.5 984.4,183.7 984.6,182.6 984.4,184.5 984.9,185.3 984.7,185.7 985.2,188.2 985.6,188.7 985.3,190.3 986.1,191.0 986.2,192.3 986.4,193.4 987.0,195.3 988.2,197.7 988.1,197.9 988.9,198.9 988.4,200.7 988.3,201.6 988.6,203.1 989.2,204.2 988.6,206.6 988.9,207.8 989.1,209.0 988.9,209.1 989.4,211.0 989.3,212.6 989.6,213.2 989.4,215.6 989.7,215.8 990.0,217.0 990.3,217.9 990.5,220.1 990.3,222.0 990.4,221.9 990.4,223.7 991.2,225.1 991.1,226.6 991.0,226.9 991.6,229.2 991.7,229.6" fill="none" stroke="#14212e" stroke-width="3.5" stroke-linejoin="round" stroke-linecap="round"/>
<line x1="556.4" y1="268.3" x2="991" y2="268.3" stroke="#c3c3c3" stroke-width="3.6" stroke-linecap="round" stroke-dasharray="7 13.2"/>

</svg>
<div class="t foot">*L’analyse complète de la relation de couverture, notamment la corrélation et le risque de base, est de la<br>responsabilité de la contrepartie. Pour transactions de couverture seulement.<br>*Le contenu de cette infolettre est informatif seulement et il ne crée aucune obligation légale ou contractuelle pour la<br>Banque Nationale et les entités de son groupe<br>*Sources: BNC et Bloomberg</div>
</body></html>
